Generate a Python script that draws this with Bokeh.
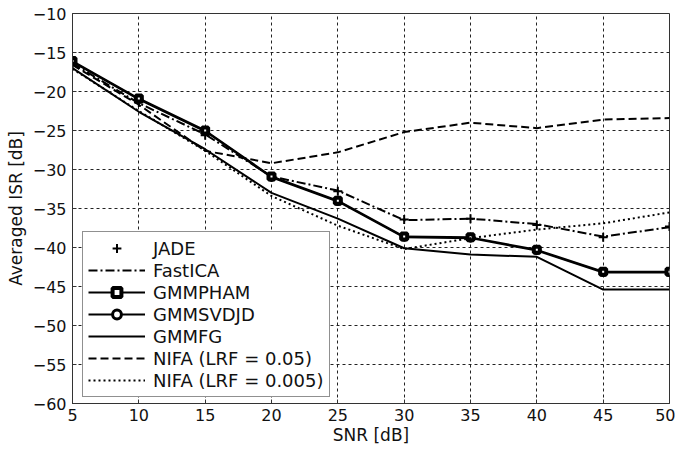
from bokeh.plotting import figure
from bokeh.models import Legend, LegendItem, FixedTicker, Range1d
from bokeh.embed import file_html
from bokeh.resources import INLINE

snr = [5, 10, 15, 20, 25, 30, 35, 40, 45, 50]
jade = [-16.5, -21.4, -25.6, -31.0, -32.8, -36.4, -36.3, -37.1, -38.7, -37.3]
fastica = [-16.4, -21.5, -25.5, -30.9, -32.7, -36.5, -36.3, -37.0, -38.6, -37.4]
gmmpham = [-16.1, -20.9, -25.0, -30.9, -34.0, -38.6, -38.7, -40.3, -43.1, -43.1]
gmmsvdjd = [-16.2, -21.0, -25.1, -31.0, -34.1, -38.7, -38.8, -40.4, -43.2, -43.2]
gmmfg = [-17.0, -22.6, -27.4, -33.0, -36.3, -40.1, -40.9, -41.2, -45.4, -45.4]
nifa05 = [-16.6, -21.7, -27.6, -29.2, -27.8, -25.2, -24.0, -24.7, -23.6, -23.4]
nifa005 = [-17.1, -22.5, -27.6, -33.4, -37.2, -40.2, -38.8, -37.7, -36.9, -35.5]
x_ticks = [5, 10, 15, 20, 25, 30, 35, 40, 45, 50]
y_ticks = [-60, -55, -50, -45, -40, -35, -30, -25, -20, -15, -10]

FONT = "DejaVu Sans"

p = figure(width=675, height=449, output_backend="svg", toolbar_location=None,
           x_range=Range1d(5, 50), y_range=Range1d(-60, -10),
           min_border_left=72, min_border_right=6, min_border_top=13, min_border_bottom=46)
p.outline_line_color = "#333333"
p.outline_line_width = 1

for ax in (p.xaxis, p.yaxis):
    ax.axis_line_color = "#333333"
    ax.major_tick_in = 4
    ax.major_tick_out = 0
    ax.minor_tick_line_color = None
    ax.major_tick_line_color = "#333333"
    ax.major_label_text_font = FONT
    ax.major_label_text_font_size = "16px"
    ax.major_label_text_color = "#111111"
    ax.axis_label_text_font = FONT
    ax.axis_label_text_font_size = "17px"
    ax.axis_label_text_font_style = "normal"
    ax.axis_label_text_color = "#111111"

p.xaxis.ticker = FixedTicker(ticks=x_ticks)
p.yaxis.ticker = FixedTicker(ticks=y_ticks)
p.xaxis.axis_label = "SNR [dB]"
p.yaxis.axis_label = "Averaged ISR [dB]"
p.xaxis.major_label_standoff = 5
p.yaxis.major_label_standoff = 6
p.xaxis.axis_label_standoff = 1
p.yaxis.axis_label_standoff = 4

p.xgrid.grid_line_color = "#222222"
p.ygrid.grid_line_color = "#222222"
p.xgrid.grid_line_dash = "3 3"
p.ygrid.grid_line_dash = "3 3"
p.xgrid.grid_line_width = 1
p.ygrid.grid_line_width = 1

K = "black"
r_jade = p.scatter(snr, jade, marker="cross", size=9, line_color=K, line_width=2)
r_fast = p.line(snr, fastica, line_color=K, line_width=2, line_dash="9 3 2 3")
r_svd_l = p.line(snr, gmmsvdjd, line_color=K, line_width=2)
r_svd_m = p.scatter(snr, gmmsvdjd, marker="circle", size=6, line_color=K, line_width=3, fill_color="white")
r_pham_l = p.line(snr, gmmpham, line_color=K, line_width=2)
r_pham_m = p.scatter(snr, gmmpham, marker="square", size=6, line_color=K, line_width=4, fill_color="white")
r_fg = p.line(snr, gmmfg, line_color=K, line_width=2)
r_n05 = p.line(snr, nifa05, line_color=K, line_width=2, line_dash="8 4")
r_n005 = p.line(snr, nifa005, line_color=K, line_width=2, line_dash="2 3")

legend = Legend(items=[
    LegendItem(label="JADE", renderers=[r_jade]),
    LegendItem(label="FastICA", renderers=[r_fast]),
    LegendItem(label="GMMPHAM", renderers=[r_pham_l, r_pham_m]),
    LegendItem(label="GMMSVDJD", renderers=[r_svd_l, r_svd_m]),
    LegendItem(label="GMMFG", renderers=[r_fg]),
    LegendItem(label="NIFA (LRF = 0.05)", renderers=[r_n05]),
    LegendItem(label="NIFA (LRF = 0.005)", renderers=[r_n005]),
], location=(10, 6))
legend.label_text_font = FONT
legend.label_text_font_size = "18px"
legend.label_text_color = "#111111"
legend.glyph_width = 57
legend.glyph_height = 22
legend.label_height = 22
legend.spacing = 0
legend.padding = 5
legend.margin = 0
legend.label_standoff = 8
legend.border_line_color = "#222222"
legend.border_line_width = 1
legend.background_fill_alpha = 1
p.add_layout(legend, "center")

open("out.html", "w").write(file_html(p, INLINE))
